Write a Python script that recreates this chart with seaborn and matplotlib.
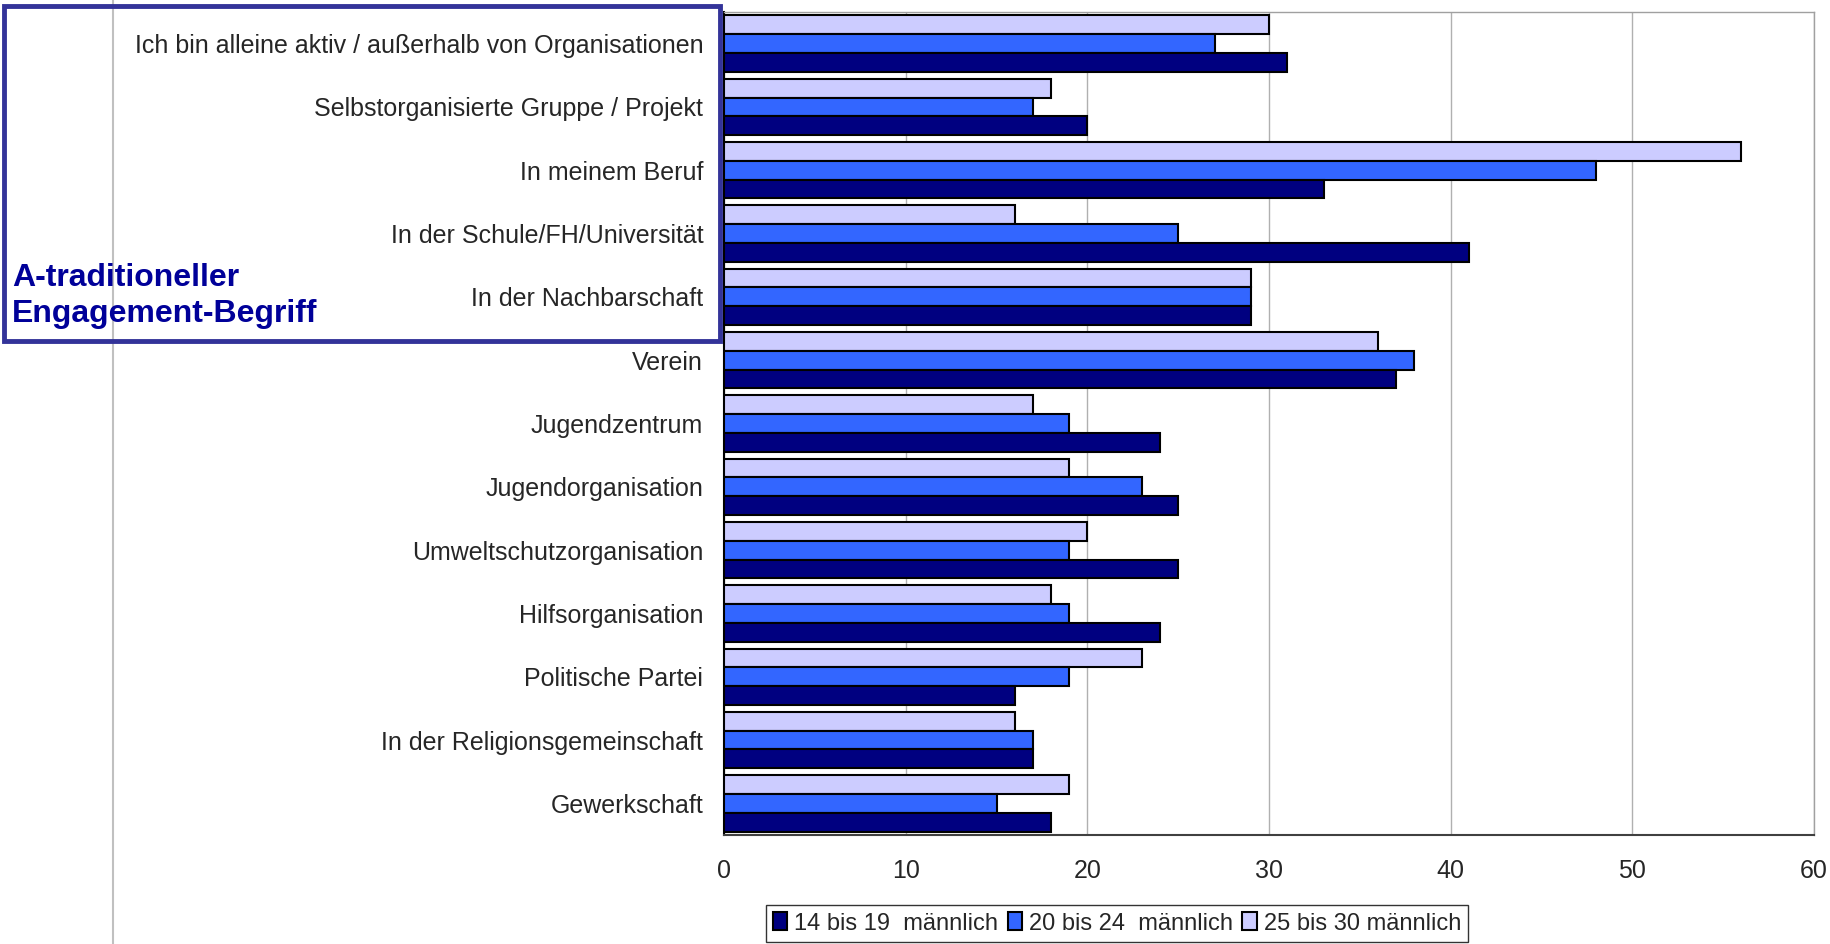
import pandas as pd
import matplotlib.pyplot as plt
import seaborn as sns
from matplotlib.patches import Rectangle
from matplotlib.lines import Line2D

# -------------------- DATA --------------------
categories = [
    "Ich bin alleine aktiv / außerhalb von Organisationen",
    "Selbstorganisierte Gruppe / Projekt",
    "In meinem Beruf",
    "In der Schule/FH/Universität",
    "In der Nachbarschaft",
    "Verein",
    "Jugendzentrum",
    "Jugendorganisation",
    "Umweltschutzorganisation",
    "Hilfsorganisation",
    "Politische Partei",
    "In der Religionsgemeinschaft",
    "Gewerkschaft",
]
series_names = ["14 bis 19  männlich", "20 bis 24  männlich", "25 bis 30 männlich"]
m_14_19 = [31, 20, 33, 41, 29, 37, 24, 25, 25, 24, 16, 17, 18]
m_20_24 = [27, 17, 48, 25, 29, 38, 19, 23, 19, 19, 19, 17, 15]
m_25_30 = [30, 18, 56, 16, 29, 36, 17, 19, 20, 18, 23, 16, 19]
x_ticks = [0, 10, 20, 30, 40, 50, 60]
box_label = "A-traditioneller\nEngagement-Begriff"

colors = {series_names[0]: "#000080", series_names[1]: "#3366FF", series_names[2]: "#CCCCFF"}

# long format table for seaborn
rows = []
for name, vals in zip(series_names, [m_14_19, m_20_24, m_25_30]):
    for cat, v in zip(categories, vals):
        rows.append({"Kategorie": cat, "Gruppe": name, "Wert": v})
df = pd.DataFrame(rows)

# -------------------- PLOT --------------------
sns.set_style("white")
plt.rcParams["font.family"] = ["Liberation Sans", "DejaVu Sans"]

W, H = 1831, 944
fig = plt.figure(figsize=(W / 100, H / 100), dpi=100)
ax = fig.add_axes([724 / W, 1 - 835 / H, (1814 - 724) / W, (835 - 12) / H])

# gray vertical line at far left of the figure
fig.add_artist(Line2D([113 / W, 113 / W], [0, 1], color="#C0C0C0", lw=1.5, zorder=0))

# top bar in each group is the oldest group
plot_order = series_names[::-1]
sns.barplot(data=df, y="Kategorie", x="Wert", hue="Gruppe", hue_order=plot_order,
            order=categories, palette=colors, saturation=1, orient="h", width=0.89,
            edgecolor="black", linewidth=1.5, ax=ax, legend=True, zorder=3)

ax.set_xlim(0, 60)
ax.set_ylim(len(categories) - 0.5, -0.5)
ax.set_xticks(x_ticks)
ax.set_xticklabels([str(t) for t in x_ticks], fontsize=18)
ax.set_xlabel("")
ax.set_ylabel("")
ax.xaxis.grid(True, color="#B0B0B0", lw=1, zorder=0)
ax.yaxis.grid(False)
ax.set_axisbelow(True)

ax.tick_params(axis="y", which="major", length=0, pad=15, labelsize=18)
ax.set_yticks([i - 0.5 for i in range(len(categories) + 1)], minor=True)
ax.tick_params(axis="y", which="minor", length=6, width=1.2, color="black", direction="out")
ax.tick_params(axis="x", which="major", length=6, width=1, color="#404040", pad=11)

for s in ["top", "right"]:
    ax.spines[s].set_color("#A0A0A0")
    ax.spines[s].set_linewidth(1)
ax.spines["left"].set_color("black")
ax.spines["left"].set_linewidth(1.5)
ax.spines["bottom"].set_color("#404040")
ax.spines["bottom"].set_linewidth(1.5)

# legend below, in original order
handles, labels = ax.get_legend_handles_labels()
ax.get_legend().remove()
hmap = dict(zip(labels, handles))
leg = fig.legend([hmap[n] for n in series_names], series_names, loc="lower center",
                 bbox_to_anchor=(1117 / W, 0.0), ncol=3, fontsize=17, frameon=True,
                 fancybox=False, edgecolor="black", handlelength=0.6, handleheight=0.8,
                 handletextpad=0.3, columnspacing=0.4, borderpad=0.3, borderaxespad=0.1)
leg.get_frame().set_linewidth(1)

# blue frame around the first categories
fig.add_artist(Rectangle((4 / W, 1 - 341 / H), (720 - 4) / W, (341 - 6) / H,
                         fill=False, edgecolor="#333399", lw=3.5, zorder=5))
fig.text(12 / W, 1 - 296 / H, box_label, color="#000099", fontsize=23,
         fontweight="bold", va="center", ha="left", linespacing=1.25)

plt.savefig("out.png", dpi=100)
